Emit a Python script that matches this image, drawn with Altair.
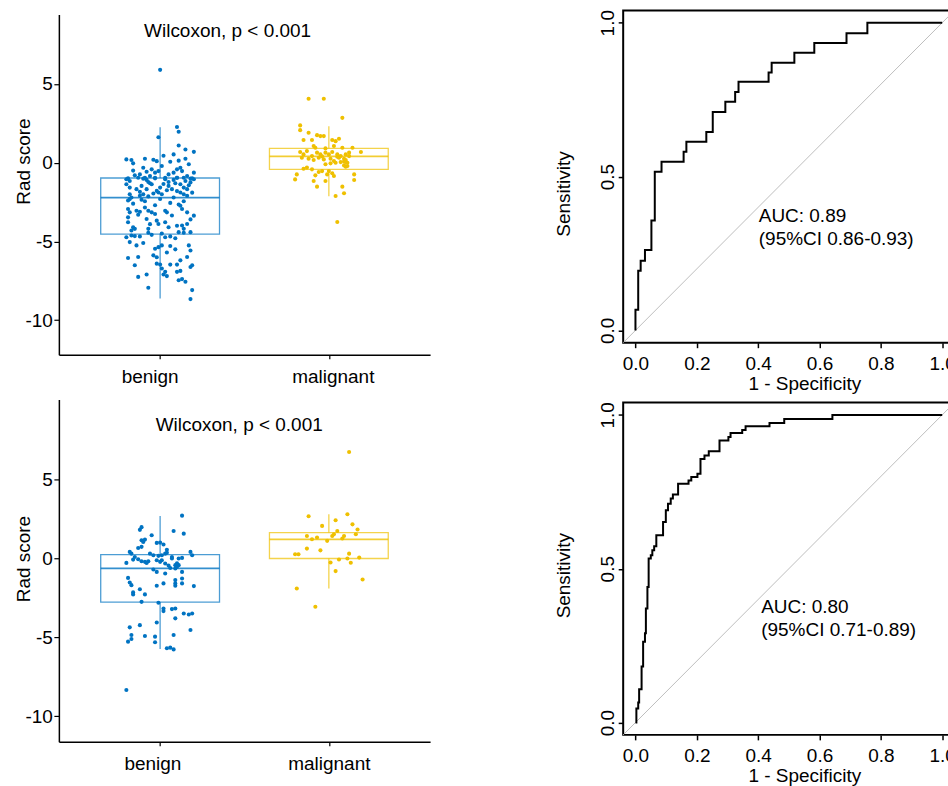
import altair as alt
import pandas as pd

FONT = "Liberation Sans"
BLUE = "#0073C2"
YELLOW = "#EFC000"

GROUPS = ["benign", "malignant"]
GROUP_POS = [1, 2]
BOX_HALF = 0.352

# ---------------- top boxplot panel: (jitter offset, rad score) ----------------
p1_benign = [
    (0.00, 5.90), (0.10, 2.27), (0.11, 1.97), (-0.01, 1.62), (0.11, 1.09), (0.15, 0.84), (0.20, 0.69),
    (0.08, 0.53), (0.02, 0.44), (-0.20, 0.21), (-0.17, 0.17), (-0.09, 0.25), (-0.04, 0.19), (-0.02, 0.10),
    (0.06, 0.06), (0.15, 0.25), (0.11, 0.13), (-0.16, -0.04), (0.17, -0.10), (-0.16, -0.50), (-0.10, -0.32),
    (-0.12, -0.74), (-0.08, -0.57), (-0.05, -0.42), (-0.03, -0.63), (-0.01, -0.53), (0.01, -0.21),
    (0.05, -0.74), (0.08, -0.63), (0.10, -0.42), (0.12, -0.32), (0.13, -0.53), (0.16, -0.84), (0.20, -0.63),
    (-0.19, -0.99), (-0.09, -0.95), (-0.06, -0.84), (-0.03, -0.99), (0.03, -0.95), (0.10, -0.95),
    (0.14, -0.95), (0.19, -0.99),
    (-0.20, -1.05), (-0.18, -1.16), (-0.13, -0.95), (-0.10, -1.01), (-0.08, -1.09), (-0.07, -1.22),
    (-0.03, -0.95), (0.03, -1.05), (0.05, -1.22), (0.08, -1.09), (0.10, -0.95), (0.15, -1.16),
    (0.18, -1.01), (0.20, -1.05),
    (-0.20, -1.37), (-0.18, -1.58), (-0.14, -1.68), (-0.11, -1.47), (-0.08, -1.68), (-0.05, -1.37),
    (-0.02, -1.79), (0.00, -1.58), (0.05, -1.47), (0.07, -1.68), (0.12, -1.37), (0.14, -1.58),
    (0.16, -1.68), (0.17, -1.43),
    (-0.18, -2.00), (-0.17, -2.21), (-0.12, -2.10), (-0.10, -2.00), (-0.07, -2.14), (-0.01, -1.89),
    (0.01, -2.00), (0.08, -2.21), (0.12, -1.89), (0.14, -2.00), (0.16, -2.10), (-0.18, -2.31), (-0.11, -2.35),
    (-0.19, -2.94), (-0.18, -3.15), (-0.14, -3.05), (-0.12, -3.11), (-0.09, -2.84), (-0.07, -3.05),
    (-0.05, -3.15), (-0.03, -3.26), (0.03, -3.05), (0.04, -3.15), (0.12, -2.73), (0.13, -2.94),
    (0.16, -3.15), (0.20, -3.36), (-0.19, -3.47),
    (-0.19, -3.78), (-0.16, -4.10), (-0.08, -3.57), (-0.02, -3.68), (-0.01, -3.89), (0.03, -3.78),
    (0.05, -4.10), (0.13, -3.99), (0.14, -4.20), (0.16, -3.89), (-0.15, -4.20), (-0.07, -4.20),
    (-0.20, -4.73), (-0.17, -4.62), (-0.15, -4.66), (-0.12, -4.68), (-0.07, -4.45), (-0.05, -4.58),
    (0.03, -4.73), (0.06, -4.68), (0.11, -4.41), (0.14, -4.45), (0.18, -4.41),
    (-0.18, -5.04), (-0.14, -5.25), (-0.03, -5.46), (-0.01, -5.36), (0.01, -5.25), (0.06, -5.29),
    (0.09, -5.50), (0.17, -5.25), (0.18, -5.57),
    (-0.19, -6.05), (-0.13, -5.99), (-0.04, -5.88), (-0.02, -6.41), (0.00, -6.47), (0.06, -6.47),
    (0.10, -6.47), (0.16, -5.99), (0.18, -6.62), (-0.15, -6.51), (0.03, -6.93), (0.10, -6.93),
    (0.12, -6.87), (0.01, -6.72), (0.19, -6.51),
    (-0.13, -7.25), (-0.08, -7.10), (0.02, -7.10), (0.04, -7.20), (0.11, -7.46), (0.13, -7.39),
    (0.15, -7.56), (-0.07, -7.94), (0.19, -8.09), (0.18, -8.66),
    (-0.15, -0.80), (-0.06, -1.30), (0.02, -1.35), (0.09, -1.30), (0.18, -1.25), (-0.12, -1.85),
    (-0.04, -1.95), (0.04, -1.75), (0.10, -1.80), (0.19, -1.90), (-0.19, -2.40), (-0.09, -2.45),
    (0.00, -2.30), (0.06, -2.55), (0.14, -2.45), (-0.16, -2.60), (0.11, -2.65), (-0.03, -2.70),
    (-0.13, -3.30), (0.07, -3.35), (0.18, -3.60), (-0.06, -3.90), (0.10, -4.00), (-0.17, -4.30),
    (0.01, -4.50), (0.09, -4.80), (-0.10, -5.10), (0.04, -5.70), (-0.02, -6.00), (0.12, -6.20),
]
p1_malignant = [
    (-0.12, 4.06), (-0.03, 4.06), (0.08, 2.85), (-0.17, 2.37), (-0.17, 2.07), (-0.12, 1.90), (-0.07, 1.75),
    (-0.05, 1.69), (-0.03, 1.69), (-0.15, 1.44), (-0.10, 1.44), (0.02, 1.44), (0.04, 1.37), (0.06, 1.52),
    (-0.09, 1.06), (-0.08, 0.95), (-0.02, 0.91), (0.03, 1.06), (0.08, 0.95), (0.14, 0.95), (-0.17, 0.68),
    (-0.15, 0.53), (-0.13, 0.74), (-0.10, 0.42), (-0.07, 0.64), (-0.05, 0.53), (-0.02, 0.64), (0.00, 0.53),
    (0.02, 0.68), (0.05, 0.53), (0.07, 0.42), (0.10, 0.53), (0.12, 0.64), (0.12, 0.42), (0.19, 0.68),
    (-0.16, 0.32), (-0.12, 0.25), (-0.09, 0.17), (-0.06, 0.32), (-0.03, 0.21), (0.01, 0.25), (0.03, 0.11),
    (0.06, 0.32), (0.09, 0.25), (0.10, 0.17), (-0.02, -0.10), (0.01, -0.04), (0.04, 0.00), (0.07, 0.04),
    (0.09, -0.17), (0.10, -0.25), (0.11, -0.21), (-0.15, -0.38), (-0.13, -0.31), (-0.10, -0.42),
    (-0.06, -0.59), (-0.04, -0.53), (0.00, -0.53), (0.02, -0.67), (0.03, -0.84), (-0.01, -0.74),
    (-0.19, -0.74), (-0.20, -1.06), (-0.08, -0.80), (-0.09, -1.16), (-0.02, -1.16), (0.15, -0.74),
    (0.15, -1.10), (-0.07, -1.52), (0.08, -1.52), (0.09, -1.94), (0.04, -2.11), (0.05, -3.76),
    (0.10, 0.05), (0.11, 0.00), (0.09, 0.08), (-0.04, 0.40), (0.05, 0.38),
]
# box statistics [benign, malignant]
p1_q1 = [-4.53, -0.42]
p1_med = [-2.21, 0.40]
p1_q3 = [-0.97, 0.91]
p1_wlo = [-8.62, -2.13]
p1_whi = [2.26, 2.32]

# ---------------- bottom boxplot panel ----------------
p2_benign = [
    (0.13, 2.72), (-0.11, 1.99), (-0.12, 1.82), (0.08, 1.75), (0.14, 1.58), (-0.05, 1.48), (-0.11, 1.16),
    (-0.09, 1.20), (-0.10, 1.05), (-0.02, 0.99), (0.00, 1.01), (0.02, 0.89), (-0.13, 0.67), (-0.11, 0.74),
    (-0.18, 0.42), (-0.17, 0.31), (-0.06, 0.31), (-0.04, 0.21), (-0.01, 0.17), (0.01, 0.21), (0.03, 0.31),
    (0.04, 0.36), (0.07, 0.10), (0.07, 0.00), (0.11, 0.00), (0.13, 0.04), (0.18, 0.42), (0.19, 0.21),
    (-0.15, 0.10), (-0.16, -0.07), (-0.11, -0.17), (-0.09, -0.21), (-0.07, -0.17), (-0.08, -0.28),
    (-0.02, -0.11), (0.00, -0.21), (0.01, -0.11), (0.03, -0.32), (-0.20, -0.28), (0.09, -0.42),
    (0.10, -0.53), (0.11, -0.42), (0.09, -0.63), (-0.04, -0.70), (-0.02, -0.85), (0.03, -0.95),
    (0.13, -0.85), (-0.19, -1.23), (-0.18, -1.52), (-0.17, -1.69), (-0.16, -2.15), (-0.16, -2.28),
    (-0.12, -1.95), (-0.09, -2.28), (-0.02, -1.73), (0.02, -1.58), (0.09, -1.37), (0.09, -1.58),
    (0.09, -1.73), (0.13, -1.27), (0.13, -1.58), (0.20, -1.75), (-0.11, -2.75), (-0.01, -2.81),
    (0.02, -3.17), (0.02, -3.34), (0.07, -3.21), (0.09, -3.17), (0.14, -3.49), (0.17, -3.55),
    (0.19, -3.49), (0.09, -3.80), (-0.02, -4.06), (-0.18, -4.37), (-0.12, -4.23), (0.18, -4.54),
    (-0.17, -4.86), (-0.17, -5.11), (-0.19, -5.28), (-0.09, -4.92), (-0.03, -4.96), (-0.03, -5.32),
    (0.08, -4.86), (0.04, -5.70), (0.06, -5.66), (0.08, -5.77), (-0.20, -8.35),
    (0.05, -0.45), (0.10, -0.30), (-0.13, -0.05), (0.04, 0.55), (0.06, -0.60),
]
p2_malignant = [
    (0.12, 6.76), (-0.12, 2.68), (0.11, 2.81), (0.04, 2.43), (-0.04, 2.07), (0.14, 2.17), (0.05, 1.75),
    (0.17, 1.84), (-0.13, 1.43), (-0.10, 1.22), (-0.07, 1.33), (0.02, 1.43), (0.03, 1.54), (0.08, 1.27),
    (0.09, 1.43), (0.16, 1.54), (-0.01, 1.12), (-0.13, 0.63), (-0.05, 0.52), (-0.20, 0.27), (-0.18, 0.27),
    (0.12, 0.31), (0.01, -0.25), (0.06, -0.06), (0.11, 0.00), (0.13, -0.27), (0.18, 0.06), (0.04, -0.80),
    (0.20, -1.33), (-0.19, -1.90), (-0.08, -3.06),
]
p2_q1 = [-2.77, 0.00]
p2_med = [-0.63, 1.22]
p2_q3 = [0.25, 1.65]
p2_wlo = [-5.75, -1.90]
p2_whi = [2.70, 2.81]

WILCOX_LABEL = "Wilcoxon, p < 0.001"

# ---------------- ROC curves (step-after vertices) ----------------
roc1_fpr = [0.0, 0.0, 0.009, 0.017, 0.031, 0.052, 0.063, 0.085, 0.157, 0.166, 0.231, 0.252, 0.293,
            0.325, 0.336, 0.434, 0.444, 0.518, 0.583, 0.688, 0.756, 1.0]
roc1_tpr = [0.0, 0.067, 0.194, 0.226, 0.261, 0.357, 0.516, 0.548, 0.581, 0.613, 0.645, 0.710, 0.743,
            0.775, 0.808, 0.838, 0.870, 0.902, 0.934, 0.966, 1.0, 1.0]
roc2_fpr = [0.0, 0.003, 0.009, 0.012, 0.020, 0.025, 0.031, 0.034, 0.039, 0.043, 0.050, 0.055, 0.061,
            0.068, 0.090, 0.099, 0.106, 0.115, 0.122, 0.139, 0.173, 0.182, 0.202, 0.212, 0.225, 0.239,
            0.274, 0.303, 0.310, 0.348, 0.359, 0.437, 0.485, 0.642, 1.0]
roc2_tpr = [0.0, 0.046, 0.065, 0.108, 0.182, 0.263, 0.290, 0.371, 0.441, 0.533, 0.544, 0.560, 0.573,
            0.609, 0.652, 0.690, 0.711, 0.728, 0.741, 0.776, 0.787, 0.798, 0.809, 0.857, 0.868, 0.882,
            0.917, 0.928, 0.941, 0.951, 0.963, 0.974, 0.987, 1.0, 1.0]
roc1_text = ["AUC: 0.89", "(95%CI 0.86-0.93)"]
roc2_text = ["AUC: 0.80", "(95%CI 0.71-0.89)"]
DIAG = [-0.04, 1.04]

cscale = alt.Scale(domain=GROUPS, range=[BLUE, YELLOW])


def box_panel(benign, malignant, q1, med, q3, wlo, whi, wil_xy, ydom, yrng, xoff, title_y, lab_off):
    rows = []
    for g, pos, pts in [(GROUPS[0], GROUP_POS[0], benign), (GROUPS[1], GROUP_POS[1], malignant)]:
        for j, v in pts:
            rows.append({"group": g, "xj": pos + j, "val": v})
    pts_df = pd.DataFrame(rows)
    st = pd.DataFrame({"group": GROUPS, "pos": GROUP_POS, "q1": q1, "med": med, "q3": q3,
                       "wlo": wlo, "whi": whi})
    st["xlo"] = st["pos"] - BOX_HALF
    st["xhi"] = st["pos"] + BOX_HALF
    txt = pd.DataFrame({"x": [wil_xy[0]], "y": [wil_xy[1]], "label": [WILCOX_LABEL]})

    xscale = alt.Scale(domain=[0.4, 2.6], nice=False, zero=False)
    yscale = alt.Scale(domain=ydom, range=yrng, nice=False, zero=False)
    xaxis = alt.Axis(title=None, values=GROUP_POS,
                     labelExpr="datum.value == 1 ? 'benign' : 'malignant'",
                     tickSize=4, tickWidth=1.2, domainWidth=1.5, labelPadding=24,
                     labelBaseline="alphabetic", labelFlush=False, offset=xoff,
                     labelOffset={"condition": {"test": "datum.value == 1", "value": lab_off[0]},
                                  "value": lab_off[1]})
    yaxis = alt.Axis(title="Rad score", values=[-10, -5, 0, 5], labelExpr="'' + datum.value",
                     tickSize=5, tickWidth=1.2, domainWidth=1.5, labelPadding=1.5,
                     labelAlign="right", labelBaseline="middle",
                     titleAngle=270, titleX=-29, titleY=title_y, titleBaseline="alphabetic",
                     titleAlign="center")

    def X(f):
        return alt.X(f, type="quantitative", scale=xscale, axis=xaxis)

    def Y(f):
        return alt.Y(f, type="quantitative", scale=yscale, axis=yaxis)

    col = alt.Color("group:N", scale=cscale, legend=None)
    boxes = alt.Chart(st).mark_rect(fillOpacity=0, strokeWidth=1.3, strokeOpacity=0.7).encode(
        x=X("xlo"), x2="xhi", y=Y("q1"), y2="q3",
        stroke=alt.Stroke("group:N", scale=cscale, legend=None))
    meds = alt.Chart(st).mark_rule(strokeWidth=1.8, opacity=0.8).encode(
        x=X("xlo"), x2="xhi", y=Y("med"), color=col)
    wh_hi = alt.Chart(st).mark_rule(strokeWidth=1.3, opacity=0.7).encode(
        x=X("pos"), y=Y("q3"), y2="whi", color=col)
    wh_lo = alt.Chart(st).mark_rule(strokeWidth=1.3, opacity=0.7).encode(
        x=X("pos"), y=Y("wlo"), y2="q1", color=col)
    pts = alt.Chart(pts_df).mark_circle(size=17, opacity=1).encode(
        x=X("xj"), y=Y("val"), color=col)
    label = alt.Chart(txt).mark_text(font=FONT, fontSize=19, align="left", baseline="alphabetic",
                                     color="black").encode(x=X("x"), y=Y("y"), text="label:N")
    return alt.layer(boxes, meds, wh_hi, wh_lo, pts, label).properties(width=372, height=333)


def roc_panel(fpr, tpr, texts, text_xy, title_y):
    roc_df = pd.DataFrame({"fpr": fpr, "tpr": tpr, "i": list(range(len(fpr)))})
    diag_df = pd.DataFrame({"fpr": DIAG, "tpr": DIAG})
    txt_df = pd.DataFrame({"fpr": [text_xy[0], text_xy[0]], "tpr": [text_xy[1], text_xy[2]],
                           "label": texts})
    xscale = alt.Scale(domain=[-0.04, 1.04], nice=False, zero=False)
    yscale = alt.Scale(domain=[-0.04, 1.04], nice=False, zero=False)
    xaxis = alt.Axis(title="1 - Specificity", values=[0, 0.2, 0.4, 0.6, 0.8, 1.0], format=".1f",
                     domain=False, tickSize=5, tickWidth=1.5, labelPadding=21.6,
                     labelBaseline="alphabetic", labelFlush=False,
                     titleX=181.5, titleY=47, titleBaseline="alphabetic", titleAlign="center")
    yaxis = alt.Axis(title="Sensitivity", values=[0, 0.5, 1.0], format=".1f", domain=False,
                     tickSize=5, tickWidth=1.5, labelAngle=270, labelAlign="center",
                     labelBaseline="alphabetic", labelPadding=4.5,
                     titleAngle=270, titleX=-53.5, titleY=title_y, titleBaseline="alphabetic",
                     titleAlign="center")

    def X(f):
        return alt.X(f, type="quantitative", scale=xscale, axis=xaxis)

    def Y(f):
        return alt.Y(f, type="quantitative", scale=yscale, axis=yaxis)

    diag = alt.Chart(diag_df).mark_line(color="#BEBEBE", strokeWidth=1).encode(x=X("fpr"), y=Y("tpr"))
    curve = alt.Chart(roc_df).mark_line(color="black", strokeWidth=2, interpolate="step-after").encode(
        x=X("fpr"), y=Y("tpr"), order="i:Q")
    label = alt.Chart(txt_df).mark_text(font=FONT, fontSize=19, align="left", baseline="alphabetic",
                                        color="black").encode(x=X("fpr"), y=Y("tpr"), text="label:N")
    return alt.layer(diag, curve, label).properties(
        width=332, height=333, view=alt.ViewBackground(stroke="black", strokeWidth=2))


box1 = box_panel(p1_benign, p1_malignant, p1_q1, p1_med, p1_q3, p1_wlo, p1_whi,
                 (0.905, 7.97), [-12.19, 9.42], [345, 4], 12, 151, (-10.5, 4))
box2 = box_panel(p2_benign, p2_malignant, p2_q1, p2_med, p2_q3, p2_wlo, p2_whi,
                 (0.974, 8.09), [-11.64, 10.09], [340, -3], 7, 156.3, (-7.8, 0))
roc1 = roc_panel(roc1_fpr, roc1_tpr, roc1_text, (0.402, 0.351, 0.276), 183.5)
roc2 = roc_panel(roc2_fpr, roc2_tpr, roc2_text, (0.41, 0.357, 0.281), 173)

chart = alt.concat(
    box1, roc1, box2, roc2, columns=2, bounds="flush",
    spacing={"row": 60, "column": 193.5},
).resolve_scale(
    x="independent", y="independent"
).properties(
    padding={"left": 14, "top": 6.6, "right": -10, "bottom": -1},
    background="white",
).configure_view(
    stroke="transparent"
).configure_axis(
    grid=False, labelFont=FONT, titleFont=FONT, labelFontSize=19, titleFontSize=19,
    labelColor="black", titleColor="black", titleFontWeight="normal",
    domainColor="black", tickColor="black",
)

chart.save("out.html", embed_options={"renderer": "svg", "actions": False})
